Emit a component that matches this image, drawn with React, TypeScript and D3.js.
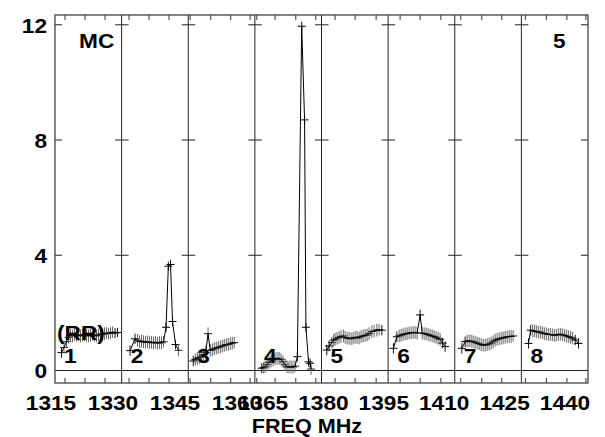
import React from 'react';
import * as d3 from 'd3';

// IF (panel) names and the frequency at the left edge of each panel (MHz)
const ifNames = ['1', '2', '3', '4', '5', '6', '7', '8'];
const ifStart = [1315, 1330, 1345, 1365, 1380, 1395, 1410, 1425];
const ifSpan = 15;

// y axis tick values
const yTicks = [0, 4, 8, 12];

// x tick labels (two groups, axis jumps between 1360 and 1365)
const xLabelsA = [1315, 1330, 1345, 1360];
const xLabelsB = [1365, 1380, 1395, 1410, 1425, 1440];

// minor ticks per IF (MHz)
const minorTicks = [
  [1317.25, 1321.76, 1326.26],
  [1331.67, 1336.17, 1340.68],
  [1345.41, 1350.07, 1354.57, 1358.92],
  [1365.43, 1369.55, 1374.21, 1378.72],
  [1383.06, 1387.57, 1392.3],
  [1397.7, 1402.21, 1406.87],
  [1411.35, 1416.08, 1420.59],
  [1425.9, 1430.63, 1435.25, 1439.53],
];

// spectra: [frequency MHz, amplitude, sigma]
const if1 = [
  [1316.46, 0.62, 0.18], [1317.03, 0.8, 0.2], [1317.59, 1.0, 0.2], [1318.04, 1.15, 0.22],
  [1318.49, 1.22, 0.22], [1318.94, 1.2, 0.22], [1319.39, 1.25, 0.22], [1319.84, 1.22, 0.22],
  [1320.29, 1.24, 0.22], [1320.74, 1.2, 0.22], [1321.19, 1.23, 0.22], [1321.64, 1.25, 0.22],
  [1322.09, 1.22, 0.22], [1322.54, 1.2, 0.22], [1322.99, 1.22, 0.22], [1323.45, 1.25, 0.22],
  [1323.9, 1.22, 0.22], [1324.35, 1.2, 0.22], [1324.8, 1.23, 0.22], [1325.25, 1.27, 0.22],
  [1325.7, 1.25, 0.22], [1326.15, 1.28, 0.22], [1326.6, 1.3, 0.2], [1327.05, 1.28, 0.2],
  [1327.5, 1.3, 0.2], [1327.95, 1.33, 0.2], [1328.51, 1.3, 0.18], [1329.08, 1.32, 0.16],
];
const if2 = [
  [1331.89, 0.69, 0.18], [1333.02, 1.1, 0.18], [1333.58, 1.05, 0.22], [1334.03, 1.0, 0.22],
  [1334.48, 1.02, 0.22], [1334.93, 1.0, 0.22], [1335.38, 0.98, 0.22], [1335.83, 1.0, 0.22],
  [1336.28, 0.97, 0.22], [1336.73, 0.98, 0.22], [1337.18, 0.96, 0.22], [1337.64, 0.98, 0.22],
  [1338.09, 0.95, 0.22], [1338.54, 0.97, 0.22], [1338.99, 0.96, 0.22], [1339.44, 1.0, 0.2],
  [1340.0, 1.5, 0.16], [1340.52, 3.62, 0.16], [1341.01, 3.68, 0.16], [1341.46, 1.7, 0.16],
  [1342.14, 0.9, 0.16], [1342.82, 0.7, 0.2],
];
const if3 = [
  [1346.13, 0.33, 0.18], [1346.58, 0.38, 0.2], [1347.03, 0.42, 0.22], [1347.48, 0.45, 0.22],
  [1347.93, 0.5, 0.22], [1348.38, 0.55, 0.22], [1348.94, 0.62, 0.22], [1349.46, 1.28, 0.22],
  [1349.95, 0.7, 0.22], [1350.41, 0.72, 0.22], [1350.86, 0.75, 0.22], [1351.31, 0.78, 0.22],
  [1351.76, 0.8, 0.22], [1352.21, 0.82, 0.22], [1352.66, 0.85, 0.22], [1353.11, 0.87, 0.22],
  [1353.56, 0.9, 0.22], [1354.01, 0.9, 0.22], [1354.46, 0.93, 0.22], [1354.91, 0.95, 0.22],
  [1355.36, 0.97, 0.2],
];
const if4 = [
  [1366.55, 0.08, 0.18], [1366.96, 0.1, 0.2], [1367.3, 0.13, 0.22], [1367.75, 0.2, 0.22],
  [1368.2, 0.28, 0.22], [1368.65, 0.33, 0.22], [1369.1, 0.37, 0.22], [1369.55, 0.4, 0.22],
  [1370.0, 0.42, 0.22], [1370.45, 0.42, 0.22], [1370.9, 0.38, 0.22], [1371.35, 0.3, 0.22],
  [1371.8, 0.2, 0.22], [1372.25, 0.13, 0.22], [1372.7, 0.12, 0.22], [1373.15, 0.13, 0.22],
  [1373.6, 0.12, 0.22], [1374.05, 0.15, 0.2], [1374.57, 0.48, 0.16], [1375.54, 11.95, 0.16],
  [1376.19, 8.7, 0.16], [1376.49, 1.5, 0.16], [1377.09, 0.3, 0.16], [1377.43, 0.25, 0.16],
  [1377.66, 0.05, 0.2],
];
const if5 = [
  [1381.19, 0.71, 0.18], [1381.71, 0.85, 0.18], [1382.32, 0.97, 0.2], [1382.73, 1.05, 0.22],
  [1383.06, 1.08, 0.22], [1383.51, 1.12, 0.22], [1383.96, 1.15, 0.22], [1384.41, 1.18, 0.22],
  [1384.93, 1.2, 0.22], [1385.32, 1.15, 0.22], [1385.77, 1.12, 0.22], [1386.22, 1.12, 0.22],
  [1386.67, 1.1, 0.22], [1387.12, 1.12, 0.22], [1387.57, 1.15, 0.22], [1388.02, 1.15, 0.22],
  [1388.47, 1.13, 0.22], [1388.92, 1.18, 0.22], [1389.37, 1.2, 0.22], [1389.82, 1.22, 0.22],
  [1390.27, 1.23, 0.22], [1390.72, 1.28, 0.22], [1391.33, 1.35, 0.22], [1391.85, 1.37, 0.22],
  [1392.46, 1.4, 0.22], [1392.97, 1.42, 0.2], [1393.58, 1.4, 0.18],
];
const if6 = [
  [1396.19, 0.77, 0.18], [1396.96, 1.17, 0.18], [1397.48, 1.2, 0.22], [1397.93, 1.22, 0.22],
  [1398.38, 1.25, 0.22], [1398.83, 1.27, 0.22], [1399.28, 1.28, 0.22], [1399.73, 1.3, 0.22],
  [1400.18, 1.31, 0.22], [1400.63, 1.32, 0.22], [1401.08, 1.32, 0.22], [1401.53, 1.3, 0.22],
  [1402.21, 1.93, 0.18], [1402.66, 1.3, 0.22], [1403.11, 1.28, 0.22], [1403.56, 1.27, 0.22],
  [1404.01, 1.25, 0.22], [1404.46, 1.22, 0.22], [1404.91, 1.2, 0.22], [1405.36, 1.18, 0.22],
  [1405.81, 1.15, 0.22], [1406.26, 1.12, 0.22], [1406.71, 1.08, 0.22], [1407.27, 0.95, 0.18],
  [1407.84, 0.83, 0.18],
];
const if7 = [
  [1411.6, 0.77, 0.18], [1412.34, 1.0, 0.18], [1412.79, 1.02, 0.22], [1413.24, 1.03, 0.22],
  [1413.69, 1.02, 0.22], [1414.14, 1.0, 0.22], [1414.59, 0.98, 0.22], [1415.05, 0.95, 0.22],
  [1415.5, 0.93, 0.22], [1415.95, 0.9, 0.22], [1416.4, 0.88, 0.22], [1416.85, 0.88, 0.22],
  [1417.3, 0.9, 0.22], [1417.75, 0.92, 0.22], [1418.2, 0.95, 0.22], [1418.65, 1.0, 0.22],
  [1419.1, 1.05, 0.22], [1419.55, 1.08, 0.22], [1420.0, 1.1, 0.22], [1420.45, 1.12, 0.22],
  [1420.9, 1.13, 0.22], [1421.35, 1.15, 0.22], [1421.8, 1.17, 0.22], [1422.25, 1.18, 0.22],
  [1422.7, 1.18, 0.22], [1423.15, 1.2, 0.2],
];
const if8 = [
  [1426.6, 0.94, 0.18], [1427.09, 1.4, 0.18], [1427.55, 1.38, 0.22], [1428.0, 1.37, 0.22],
  [1428.45, 1.35, 0.22], [1428.9, 1.33, 0.22], [1429.35, 1.33, 0.22], [1429.8, 1.3, 0.22],
  [1430.25, 1.28, 0.22], [1430.7, 1.27, 0.22], [1431.15, 1.25, 0.22], [1431.6, 1.25, 0.22],
  [1432.05, 1.24, 0.22], [1432.5, 1.22, 0.22], [1432.95, 1.23, 0.22], [1433.4, 1.25, 0.22],
  [1433.85, 1.26, 0.22], [1434.3, 1.24, 0.22], [1434.75, 1.22, 0.22], [1435.2, 1.2, 0.22],
  [1435.65, 1.18, 0.22], [1436.1, 1.15, 0.22], [1436.55, 1.12, 0.22], [1437.12, 1.06, 0.18],
  [1437.86, 0.94, 0.18],
];
const spectra = [if1, if2, if3, if4, if5, if6, if7, if8];

const FONT = "'Liberation Sans', Arial, Helvetica, sans-serif";

function T({ x, y, anchor = 'start', size = 21, children }: any) {
  return (
    <text
      transform={`translate(${x},${y}) scale(1.08,1)`}
      textAnchor={anchor}
      fontFamily={FONT}
      fontWeight="bold"
      fontSize={size}
      fill="#000"
    >
      {children}
    </text>
  );
}

export default function App() {
  const W = 605, H = 437;
  const left = 55, right = 588, top = 15, bottom = 383;
  const y = d3.scaleLinear().domain([-0.434, 12.34]).range([bottom, top]);
  const band = d3.scaleBand().domain(ifNames).range([left, right]).padding(0);
  const bw = band.bandwidth();
  const xs = ifNames.map((n, i) =>
    d3.scaleLinear().domain([ifStart[i], ifStart[i] + ifSpan]).range([band(n)!, band(n)! + bw])
  );
  const labA = d3.scaleLinear().domain([1315, 1360]).range([51, 237]);
  const labB = d3.scaleLinear().domain([1365, 1440]).range([263, 565]);

  return (
    <svg
      width={W}
      height={H}
      style={{ position: 'fixed', left: 0, top: 0, background: '#fff' }}
    >
      <rect x={0} y={0} width={W} height={H} fill="#fff" />
      {/* zero line */}
      <line x1={left} x2={right} y1={y(0)} y2={y(0)} stroke="#222" strokeWidth={1} />
      {/* panels */}
      {ifNames.map((n, i) => {
        const x = xs[i];
        const data = spectra[i];
        const line = d3
          .line<number[]>()
          .x((d) => x(d[0]))
          .y((d) => y(d[1]));
        const x0 = band(n)!;
        return (
          <g key={n}>
            {/* separators and y ticks */}
            {i > 0 && (
              <line x1={x0} x2={x0} y1={top} y2={bottom} stroke="#222" strokeWidth={1} />
            )}
            {yTicks.map((t) => (
              <line
                key={t}
                x1={i === 0 ? x0 : x0 - 6.5}
                x2={x0 + 7}
                y1={y(t)}
                y2={y(t)}
                stroke="#222"
                strokeWidth={1}
              />
            ))}
            {minorTicks[i].map((t) => (
              <g key={t}>
                <line x1={x(t)} x2={x(t)} y1={bottom} y2={bottom - 5} stroke="#333" strokeWidth={1} />
                <line x1={x(t)} x2={x(t)} y1={top} y2={top + 5} stroke="#333" strokeWidth={1} />
              </g>
            ))}
            {/* crosses */}
            {data.map((d, j) => {
              const big = d[2] < 0.2;
              const cx = x(d[0]);
              const cy = y(d[1]);
              return (
                <g key={j}>
                  <line
                    x1={cx}
                    x2={cx}
                    y1={y(d[1] + d[2])}
                    y2={y(d[1] - d[2])}
                    stroke={big ? '#111' : '#666'}
                    strokeWidth={1}
                  />
                  <line x1={cx - 4} x2={cx + 4} y1={cy} y2={cy} stroke={big ? '#000' : '#222'} strokeWidth={1} />
                </g>
              );
            })}
            <path d={line(data) || ''} fill="none" stroke="#000" strokeWidth={1} />
            <T x={x0 + 9} y={363}>{n}</T>
          </g>
        );
      })}
      {/* right edge y ticks */}
      {yTicks.map((t) => (
        <line key={t} x1={right - 7} x2={right} y1={y(t)} y2={y(t)} stroke="#222" strokeWidth={1} />
      ))}
      {/* frame */}
      <rect x={left} y={top} width={right - left} height={bottom - top} fill="none" stroke="#444" strokeWidth={1.3} />
      {/* y labels */}
      {yTicks.map((t) => (
        <T key={t} x={47} y={y(t) + 8} anchor="end">{t}</T>
      ))}
      {/* x labels */}
      {xLabelsA.map((f) => (
        <T key={f} x={labA(f)} y={410} anchor="middle">{f}</T>
      ))}
      {xLabelsB.map((f) => (
        <T key={f} x={labB(f)} y={410} anchor="middle">{f}</T>
      ))}
      <T x={307} y={432.5} size={20} anchor="middle">FREQ MHz</T>
      <T x={79} y={48}>MC</T>
      <T x={553} y={48}>5</T>
      <T x={57} y={340}>(RR)</T>
    </svg>
  );
}
